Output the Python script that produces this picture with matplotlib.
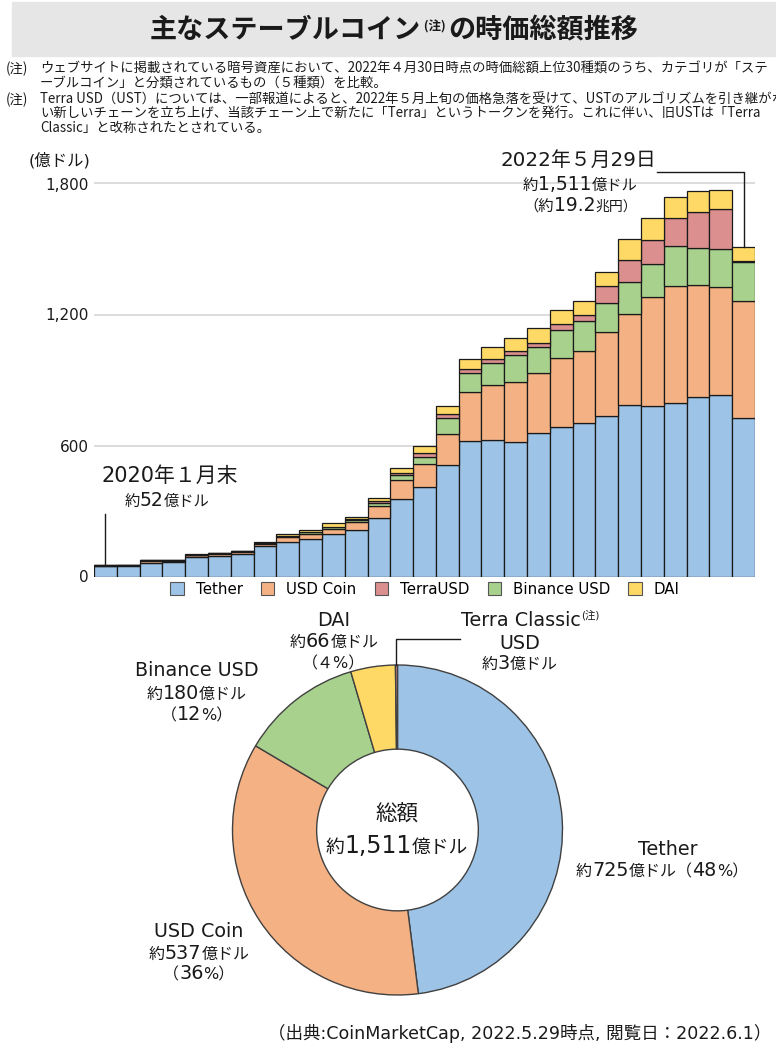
import matplotlib
matplotlib.use("Agg")
import numpy as np
import matplotlib.pyplot as plt
from matplotlib.patches import Rectangle, Patch

# Verdana-like latin (DejaVu) with CJK fallback
plt.rcParams['font.family'] = ['DejaVu Sans', 'Noto Sans CJK JP']
JP = ['Noto Sans CJK JP', 'DejaVu Sans']

W, H = 776, 1048

# month ends, Jan 2020 .. Apr 2022, then 2022-05-29
months = ["2020-01", "2020-02", "2020-03", "2020-04", "2020-05", "2020-06",
          "2020-07", "2020-08", "2020-09", "2020-10", "2020-11", "2020-12",
          "2021-01", "2021-02", "2021-03", "2021-04", "2021-05", "2021-06",
          "2021-07", "2021-08", "2021-09", "2021-10", "2021-11", "2021-12",
          "2022-01", "2022-02", "2022-03", "2022-04", "2022-05-29"]

# 億ドル
tether = [46, 47, 64, 65, 91, 93, 101, 138, 157, 172, 193, 213, 266, 354, 410,
          511, 619, 625, 617, 656, 686, 704, 735, 784, 781, 796, 821, 831, 725]
usdc = [4, 5, 7, 8, 7, 11, 12, 12, 23, 24, 24, 36, 58, 86, 104,
        143, 225, 252, 275, 275, 313, 330, 385, 418, 498, 534, 513, 494, 537]
busd = [1, 1, 3, 3, 2, 2, 2, 2, 5, 8, 10, 10, 14, 23, 35,
        70, 87, 99, 121, 119, 130, 135, 131, 148, 152, 184, 171, 175, 180]
terra = [0, 0, 0, 0, 0, 0, 0, 0, 0, 0, 2, 3, 8, 10, 15,
         20, 18, 19, 20, 21, 26, 29, 79, 100, 110, 128, 164, 182, 3]
dai = [1, 1, 1, 1, 1, 1, 2, 4, 9, 11, 14, 12, 15, 24, 32,
       37, 47, 55, 58, 66, 65, 65, 65, 94, 100, 96, 97, 88, 66]

yticks = [0, 600, 1200, 1800]
ytick_labels = ["0", "600", "1,200", "1,800"]

c_tether = '#9DC3E6'
c_usdc = '#F4B183'
c_terra = '#DB8F8F'
c_busd = '#A9D18E'
c_dai = '#FFD966'

fig = plt.figure(figsize=(W / 100, H / 100), dpi=100)


def fx(x):
    return x / W


def fy(y):
    return 1 - y / H


def rich(x, y, parts, ha='center', **kw):
    # parts: (text, size[, dy]) drawn one after another on the same baseline
    r = fig.canvas.get_renderer()
    texts = []
    for p in parts:
        dy = p[2] if len(p) > 2 else 0
        t = fig.text(0, fy(y + dy), p[0], fontsize=p[1], va='baseline', ha='left',
                     color='#1a1a1a', **kw)
        texts.append(t)
    widths = [t.get_window_extent(r).width for t in texts]
    x0 = x - sum(widths) / 2 if ha == 'center' else (x - sum(widths) if ha == 'right' else x)
    for t, w in zip(texts, widths):
        t.set_x(fx(x0))
        x0 += w
    return texts


# title band
fig.add_artist(Rectangle((fx(12), fy(56)), 1 - fx(12), 54 / H,
                         transform=fig.transFigure, color='#E7E6E6', zorder=0))
rich(394, 38, [("主なステーブルコイン", 19.5), (" (注) ", 9, -7), ("の時価総額推移", 19.5)],
     fontweight='bold', family=JP)

# notes (cut at the right edge as in the source page)
nfs = 9.6
notes = [(6, 73, "(注)"),
         (40, 73, "ウェブサイトに掲載されている暗号資産において、2022年４月30日時点の時価総額上位30種類のうち、カテゴリが「ステ"),
         (40, 87, "ーブルコイン」と分類されているもの（５種類）を比較。"),
         (6, 104, "(注)"),
         (40, 104, "Terra USD（UST）については、一部報道によると、2022年５月上旬の価格急落を受けて、USTのアルゴリズムを引き継がな"),
         (40, 118, "い新しいチェーンを立ち上げ、当該チェーン上で新たに「Terra」というトークンを発行。これに伴い、旧USTは「Terra"),
         (40, 132, "Classic」と改称されたとされている。")]
for nx, ny, s in notes:
    fig.text(fx(nx), fy(ny), s, fontsize=nfs, va='baseline', family=JP, color='#1a1a1a')

# stacked bars
ax = fig.add_axes([fx(94), fy(576.5), (755 - 94) / W, (576.5 - 160) / H])
x = np.arange(len(months))
bottom = np.zeros(len(months))
for vals, col in [(tether, c_tether), (usdc, c_usdc), (busd, c_busd), (terra, c_terra), (dai, c_dai)]:
    ax.bar(x, vals, width=1.0, bottom=bottom, color=col, edgecolor='#1a1a1a', linewidth=0.9)
    bottom = bottom + np.array(vals)
total = bottom

ax.set_xlim(-0.5, len(months) - 0.5)
ax.set_ylim(0, (576.5 - 160) * 600 / 131)
ax.set_yticks(yticks)
ax.set_yticklabels(ytick_labels)
ax.set_xticks([])
ax.grid(axis='y', color='#D9D9D9', linewidth=1.3)
ax.set_axisbelow(True)
for s in ax.spines.values():
    s.set_visible(False)
ax.tick_params(length=0, labelsize=11, pad=4, colors='#1a1a1a')
fig.text(fx(29), fy(165), "(億ドル)", fontsize=11.8, va='baseline', color='#1a1a1a')

# leader lines
last = len(months) - 1
ax.plot([last, last, last - 3.8], [total[last], 1853, 1853], color='#1a1a1a', lw=1, clip_on=False)
ax.plot([0, 0], [total[0], 285], color='#1a1a1a', lw=1, clip_on=False)

rich(578, 166, [("2022年５月29日", 14.3)])
rich(580, 190, [("約", 11), ("1,511", 13.5), ("億ドル", 11)])
rich(580, 211, [("（約", 11), ("19.2", 13.5), ("兆円）", 10)])
rich(170, 482, [("2020年１月末", 15)])
rich(167, 506, [("約", 11), ("52", 13.5), ("億ドル", 11)])

# legend
handles = [Patch(facecolor=c, edgecolor='#555555', linewidth=0.8) for c in
           [c_tether, c_usdc, c_terra, c_busd, c_dai]]
fig.legend(handles, ["Tether", "USD Coin", "TerraUSD", "Binance USD", "DAI"],
           loc='center', bbox_to_anchor=(fx(425), fy(589)), ncol=5, frameon=False,
           fontsize=10.8, handlelength=0.9, handleheight=0.9, handletextpad=0.8,
           columnspacing=1.2, borderpad=0)

# donut
R = 165
ax2 = fig.add_axes([fx(397.5 - 170), fy(830 + 170), 340 / W, 340 / H])
pie_vals = [tether[last], usdc[last], busd[last], dai[last], terra[last]]
ax2.pie(pie_vals, colors=[c_tether, c_usdc, c_busd, c_dai, c_terra], startangle=90,
        counterclock=False, radius=1,
        wedgeprops=dict(width=0.51, edgecolor='#404040', linewidth=1.0))
ax2.set_xlim(-170 / R, 170 / R)
ax2.set_ylim(-170 / R, 170 / R)
ax2.axis('off')
th = np.radians(90 + 180 * pie_vals[-1] / sum(pie_vals))
ax2.plot([np.cos(th), np.cos(th), 0.38], [1.0, 1.16, 1.16], color='#1a1a1a', lw=1, clip_on=False)

big = 13.8
sm = 11.5
rich(334, 626, [("DAI", big)])
rich(334, 647, [("約", sm), ("66", big), ("億ドル", sm)])
rich(334, 668, [("（４%）", sm)])
rich(530, 626, [("Terra Classic", big), ("(注)", 7.5, -7)])
rich(520, 649, [("USD", big)])
rich(520, 669, [("約", sm), ("3", big), ("億ドル", sm)])
rich(197, 676, [("Binance USD", big)])
rich(197, 699, [("約", sm), ("180", big), ("億ドル", sm)])
rich(197, 720, [("（", sm), ("12", big), ("%）", sm)])
rich(397, 821, [("総額", 15.5)])
rich(397, 853, [("約", 13.5), ("1,511", 17), ("億ドル", 13.5)])
rich(668, 855, [("Tether", big)])
rich(662, 876, [("約", sm), ("725", big), ("億ドル（", sm), ("48", big), ("%）", sm)])
rich(199, 937, [("USD Coin", big)])
rich(199, 959, [("約", sm), ("537", big), ("億ドル", sm)])
rich(199, 979, [("（", sm), ("36", big), ("%）", sm)])

rich(771, 1039, [("（出典:CoinMarketCap, 2022.5.29時点, 閲覧日：2022.6.1）", 12.6)], ha='right')

fig.savefig("out.png", dpi=100)
